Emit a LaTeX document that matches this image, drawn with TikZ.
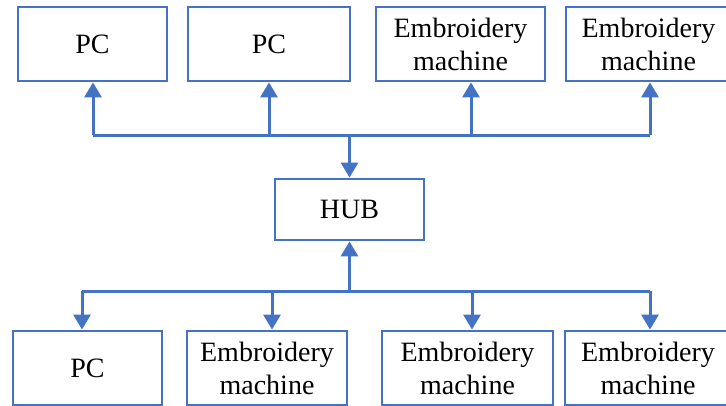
\documentclass[tikz,border=0pt]{standalone}
\usepackage{fontspec}
\setmainfont{Liberation Serif}
\usetikzlibrary{arrows.meta, positioning}
\definecolor{netblue}{HTML}{4472C4}

\begin{document}
\begin{tikzpicture}[x=1pt, y=-1pt, >={Triangle[width=17pt, length=15pt]}]

	\tikzset{
		unit/.style={
				rectangle, draw=netblue, line width=2.8pt, inner sep=0pt, align=center, minimum height=74pt, font=\fontsize{28}{33}\selectfont
			},
		link/.style={
				draw=netblue, line width=3pt
			},
	}
	\useasboundingbox (0,0) rectangle (726,405);

	% top row
	\node[unit, minimum width=149pt] (t1) at (92.5,44) {PC};
	\node[unit, minimum width=162pt] (t2) at (269,44) {PC};
	\node[unit, minimum width=169pt] (t3) at (460.5,44) {Embroidery\\machine};
	\node[unit, minimum width=165pt] (t4) at (648.5,44) {Embroidery\\machine};

	\node[unit, minimum width=149pt, minimum height=61pt] (hub) at (349.5,209.5) {HUB};

	% bottom row
	\node[unit, minimum width=149pt] (b1) at (87.5,368) {PC};
	\node[unit, minimum width=160pt] (b2) at (267,368) {Embroidery\\machine};
	\node[unit, minimum width=171pt] (b3) at (467.5,368) {Embroidery\\machine};
	\node[unit, minimum width=166pt] (b4) at (648,368) {Embroidery\\machine};

	\coordinate (j1) at (93,135);
	\coordinate (j2) at (269,135);
	\coordinate (j3) at (471,135);
	\coordinate (j4) at (650,135);
	\coordinate (k1) at (82,291);
	\coordinate (k2) at (272,291);
	\coordinate (k3) at (472,291);
	\coordinate (k4) at (650,291);

	\draw[link] (j1)--(j4);
	\draw[link, ->] (j1)--(j1 |- t1.south);
	\draw[link, ->] (j2)--(j2 |- t2.south);
	\draw[link, ->] (j3)--(j3 |- t3.south);
	\draw[link, ->] (j4)--(j4 |- t4.south);
	\draw[link, ->] (hub.north |- j1)--(hub.north);

	\draw[link] (k1)--(k4);
	\draw[link, ->] (hub.south |- k1)--(hub.south);
	\draw[link, ->] (k1)--(k1 |- b1.north);
	\draw[link, ->] (k2)--(k2 |- b2.north);
	\draw[link, ->] (k3)--(k3 |- b3.north);
	\draw[link, ->] (k4)--(k4 |- b4.north);

\end{tikzpicture}
\end{document}
